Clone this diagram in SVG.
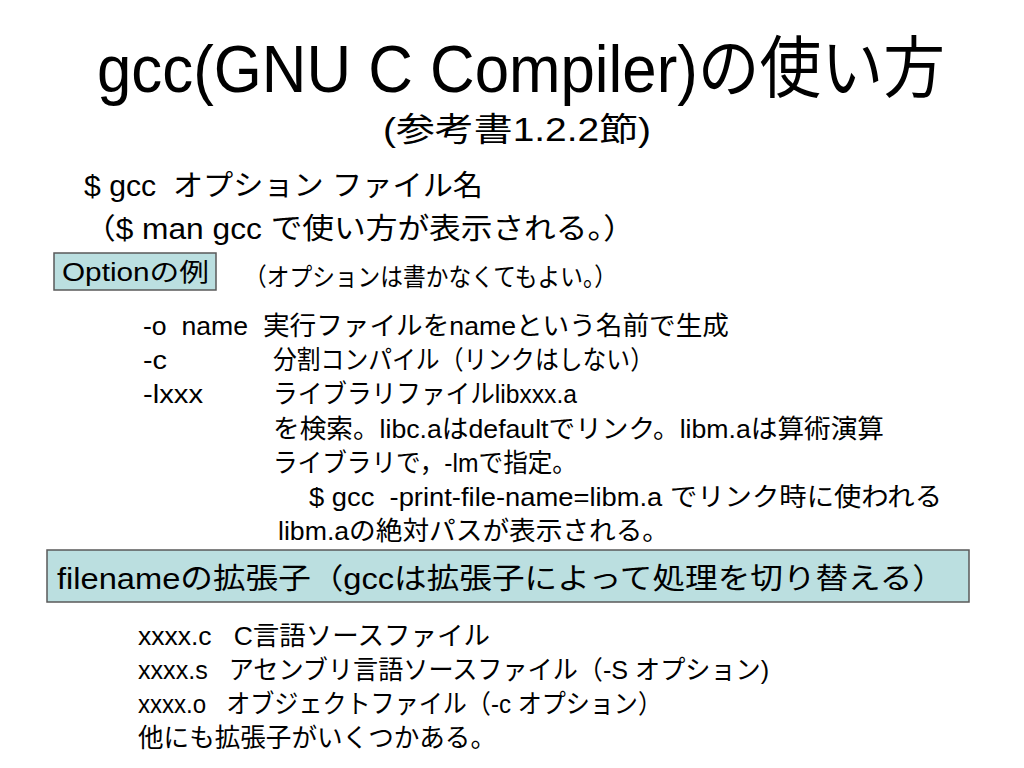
<svg xmlns="http://www.w3.org/2000/svg" width="1024" height="768" viewBox="0 0 1024 768" xml:space="preserve">
<style>
text{font-family:"Liberation Sans","Noto Sans CJK JP",sans-serif;fill:#000;white-space:pre}
.box{fill:#bbdfe0;stroke:#5a5a5a;stroke-width:1.5}
.t{font-size:67px}
.s{font-size:33px}
.m{font-size:29px}
.b{font-size:25px}
.n{font-size:26px}
</style>
<rect width="1024" height="768" fill="#fff"/>
<g id="title">
<text class="t" x="97" y="92" textLength="848" lengthAdjust="spacingAndGlyphs">gcc(GNU C Compiler)の使い方</text>
<text class="s" x="383" y="141" textLength="268" lengthAdjust="spacingAndGlyphs">(参考書1.2.2節)</text>
</g>
<g id="usage">
<text class="m" x="84" y="196" textLength="399" lengthAdjust="spacingAndGlyphs">$ gcc  オプション ファイル名</text>
<text class="m" x="84" y="239" textLength="551" lengthAdjust="spacingAndGlyphs">（$ man gcc で使い方が表示される。）</text>
</g>
<g id="option-box">
<rect class="box" x="54" y="253" width="162" height="37"/>
<text class="b" x="62" y="281" textLength="147" lengthAdjust="spacingAndGlyphs">Optionの例</text>
</g>
<text class="b" x="244" y="286" textLength="373" lengthAdjust="spacingAndGlyphs">（オプションは書かなくてもよい。）</text>
<g id="options">
<text class="n" x="143" y="335" textLength="586" lengthAdjust="spacingAndGlyphs">-o  name  実行ファイルをnameという名前で生成</text>
<text class="n" x="143" y="369" textLength="24" lengthAdjust="spacingAndGlyphs">-c</text>
<text class="n" x="273" y="369" textLength="381" lengthAdjust="spacingAndGlyphs">分割コンパイル（リンクはしない）</text>
<text class="n" x="143" y="403" textLength="60" lengthAdjust="spacingAndGlyphs">-lxxx</text>
<text class="n" x="273" y="403" textLength="304" lengthAdjust="spacingAndGlyphs">ライブラリファイルlibxxx.a</text>
<text class="n" x="273" y="438" textLength="611" lengthAdjust="spacingAndGlyphs">を検索。libc.aはdefaultでリンク。libm.aは算術演算</text>
<text class="n" x="273" y="472" textLength="304" lengthAdjust="spacingAndGlyphs">ライブラリで，-lmで指定。</text>
<text class="n" x="309" y="506" textLength="633" lengthAdjust="spacingAndGlyphs">$ gcc  -print-file-name=libm.a でリンク時に使われる</text>
<text class="n" x="278" y="540" textLength="391" lengthAdjust="spacingAndGlyphs">libm.aの絶対パスが表示される。</text>
</g>
<g id="filename-box">
<rect class="box" x="47" y="550" width="922" height="52"/>
<text class="m" x="57" y="589" textLength="888" lengthAdjust="spacingAndGlyphs">filenameの拡張子（gccは拡張子によって処理を切り替える）</text>
</g>
<g id="extensions">
<text class="n" x="138" y="645" textLength="352" lengthAdjust="spacingAndGlyphs">xxxx.c   C言語ソースファイル</text>
<text class="n" x="138" y="679" textLength="631" lengthAdjust="spacingAndGlyphs">xxxx.s   アセンブリ言語ソースファイル（-S オプション)</text>
<text class="n" x="138" y="713" textLength="524" lengthAdjust="spacingAndGlyphs">xxxx.o   オブジェクトファイル（-c オプション）</text>
<text class="n" x="138" y="747" textLength="358" lengthAdjust="spacingAndGlyphs">他にも拡張子がいくつかある。</text>
</g>
</svg>
